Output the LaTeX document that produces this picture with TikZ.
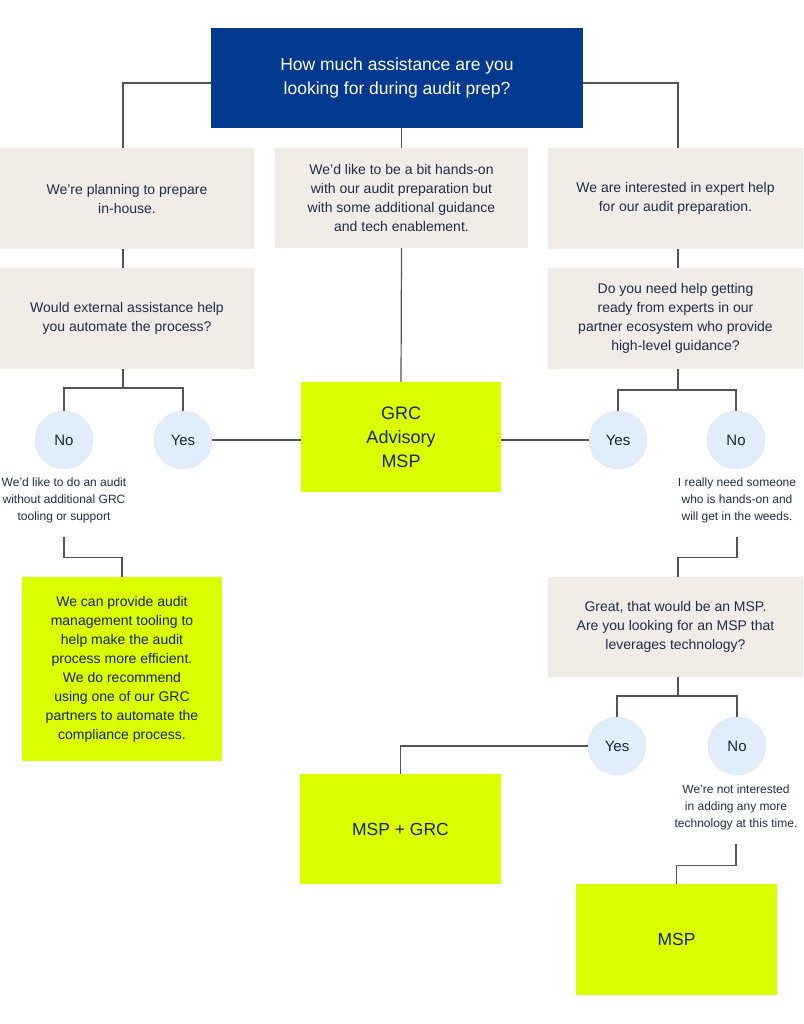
\documentclass[tikz,border=0pt]{standalone}
\usepackage{fontspec}
\setmainfont{Liberation Sans}
\definecolor{navy}{RGB}{3,58,143}
\definecolor{beige}{RGB}{241,236,230}
\definecolor{lime}{RGB}{220,255,0}
\definecolor{bubble}{RGB}{226,237,251}
\definecolor{bubbleline}{RGB}{200,205,214}
\definecolor{txt}{RGB}{30,44,78}
\definecolor{wire}{RGB}{85,85,85}
\tikzset{
  base/.style={inner sep=0pt, align=center, anchor=center},
  qbox/.style={base, fill=navy, text=white, font=\fontsize{17.5}{24}\selectfont},
  bbox/.style={base, fill=beige, text=txt, font=\fontsize{14}{19}\selectfont},
  lbox/.style={base, fill=lime, text=txt!80!black},
  bub/.style={base, circle, minimum size=58pt, fill=bubble, draw=bubbleline, densely dotted, text=txt!80!black, font=\fontsize{15}{18}\selectfont},
  note/.style={base, text=txt, font=\fontsize{12}{17}\selectfont, minimum height=74pt},
  wirestyle/.style={draw=wire, line width=1.2pt}
}
\begin{document}
\begin{tikzpicture}[x=1pt,y=-1pt]
\useasboundingbox (0,0) rectangle (803,1024);
% question
\node[qbox, minimum width=372pt, minimum height=100pt] (q) at (397,78) {How much assistance are you\\looking for during audit prep?};
% second row
\node[bbox, minimum width=254pt, minimum height=101pt] (a1) at (127,198.5) {We're planning to prepare\\in-house.};
\node[bbox, minimum width=253pt, minimum height=100pt] (a2) at (401.5,198) {We'd like to be a bit hands-on\\with our audit preparation but\\with some additional guidance\\and tech enablement.};
\node[bbox, minimum width=255pt, minimum height=101pt] (a3) at (675.5,198.5) {We are interested in expert help\\for our audit preparation.};
% third row
\node[bbox, minimum width=254pt, minimum height=101pt] (b1) at (127,318.5) {Would external assistance help\\you automate the process?};
\node[bbox, minimum width=255pt, minimum height=101pt] (b3) at (675.5,318.5) {Do you need help getting\\ready from experts in our\\partner ecosystem who provide\\high-level guidance?};
\node[lbox, minimum width=200pt, minimum height=110pt, font=\fontsize{18}{24}\selectfont] (g1) at (401,437) {GRC\\Advisory\\MSP};
% bubbles
\node[bub] (n1) at (64,440) {No};
\node[bub] (y1) at (183,440) {Yes};
\node[bub] (y3) at (618,440) {Yes};
\node[bub] (n3) at (736,440) {No};
\node[note] (t1) at (64,500) {We'd like to do an audit\\without additional GRC\\tooling or support};
\node[note] (t3) at (737,500) {I really need someone\\who is hands-on and\\will get in the weeds.};
% lower
\node[lbox, minimum width=200pt, minimum height=184pt, font=\fontsize{14}{19}\selectfont] (r1) at (122,669) {We can provide audit\\management tooling to\\help make the audit\\process more efficient.\\We do recommend\\using one of our GRC\\partners to automate the\\compliance process.};
\node[bbox, minimum width=255pt, minimum height=100pt] (c3) at (675.5,627) {Great, that would be an MSP.\\Are you looking for an MSP that\\leverages technology?};
\node[bub] (y4) at (617,746) {Yes};
\node[bub] (n4) at (737,746) {No};
\node[note] (t4) at (736,807) {We're not interested\\in adding any more\\technology at this time.};
\node[lbox, minimum width=201pt, minimum height=110pt, font=\fontsize{17.5}{22}\selectfont] (g2) at (400.5,829) {MSP + GRC};
\node[lbox, minimum width=201pt, minimum height=111pt, font=\fontsize{17.5}{22}\selectfont] (g3) at (676.5,939.5) {MSP};
% split points
\coordinate (s1) at (123,388);
\coordinate (s3) at (678,390);
\coordinate (s4) at (678,696);
% connectors
\draw[wirestyle] ([yshift=-5pt]q.west) -| ([xshift=-4pt]a1.north);
\draw[wirestyle] ([yshift=-5pt]q.east) -| ([xshift=2.5pt]a3.north);
\draw[wirestyle] (a2.north |- q.south) -- (a2.north);
\draw[wirestyle] ([xshift=-4pt]a1.south) -- ([xshift=-4pt]b1.north);
\draw[wirestyle] (a2.south) -- (g1.north);
\draw[wirestyle] ([xshift=2.5pt]a3.south) -- ([xshift=2.5pt]b3.north);
\draw[wirestyle] ([xshift=-4pt]b1.south) -- (s1);
\draw[wirestyle] (n1.north) |- (s1) -| (y1.north);
\draw[wirestyle] ([xshift=2.5pt]b3.south) -- (s3);
\draw[wirestyle] (y3.north) |- (s3) -| (n3.north);
\draw[wirestyle] (y1.east) -- (y1.east -| g1.west);
\draw[wirestyle] (y3.west -| g1.east) -- (y3.west);
\draw[wirestyle] (t1.south) -- ++(0,20) -| (r1.north);
\draw[wirestyle] (t3.south) -- ++(0,20) -| ([xshift=2.5pt]c3.north);
\draw[wirestyle] ([xshift=2.5pt]c3.south) -- (s4);
\draw[wirestyle] (y4.north) |- (s4) -| (n4.north);
\draw[wirestyle] (y4.west) -| (g2.north);
\draw[wirestyle] (t4.south) -- ++(0,21) -| (g3.north);
\end{tikzpicture}
\end{document}
